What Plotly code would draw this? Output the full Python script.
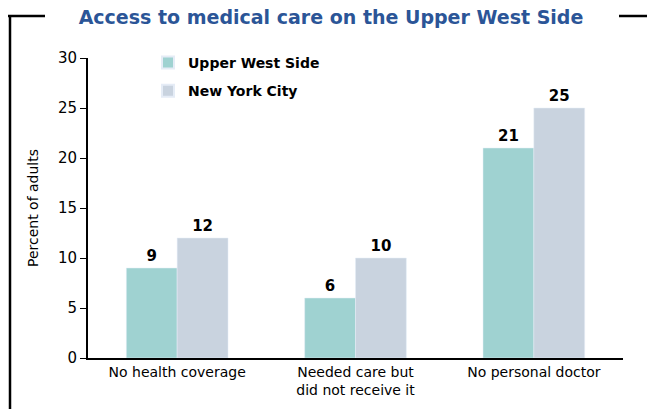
import plotly.graph_objects as go

categories = ["No health coverage", "Needed care but<br>did not receive it", "No personal doctor"]
uws_values = [9, 6, 21]
nyc_values = [12, 10, 25]
series_names = ["Upper West Side", "New York City"]

W, H = 647, 409
L, R, T, B = 88, 24, 58, 51
pw, ph = W - L - R, H - T - B


def px(x):
    return (x - L) / pw


def py(y):
    return (H - B - y) / ph


font = "DejaVu Sans"

fig = go.Figure()
fig.add_trace(go.Bar(x=categories, y=uws_values, name=series_names[0], legendgroup="uws",
                     marker_color="#9fd2d1", text=uws_values, textposition="outside",
                     textfont=dict(size=15, color="black", family=font, weight="bold"),
                     cliponaxis=False))
fig.add_trace(go.Bar(x=categories, y=nyc_values, name=series_names[1], legendgroup="nyc",
                     marker_color="#c9d3df", text=nyc_values, textposition="outside",
                     textfont=dict(size=15, color="black", family=font, weight="bold"),
                     cliponaxis=False))

# frame lines around the title
line = dict(color="black", width=2.5)
fig.add_shape(type="line", xref="paper", yref="paper", x0=px(8), x1=px(45), y0=py(16), y1=py(16), line=line)
fig.add_shape(type="line", xref="paper", yref="paper", x0=px(10), x1=px(10), y0=py(16), y1=py(412), line=line)
fig.add_shape(type="line", xref="paper", yref="paper", x0=px(619), x1=px(650), y0=py(16), y1=py(16), line=line)

fig.update_layout(
    width=W, height=H,
    margin=dict(l=L, r=R, t=T, b=B),
    plot_bgcolor="white", paper_bgcolor="white",
    font=dict(family=font, color="black"),
    title=dict(text="<b>Access to medical care on the Upper West Side</b>",
               x=px(331), xref="paper", xanchor="center", y=1 - 17 / H, yanchor="middle",
               font=dict(size=19, color="#2b5597", family=font)),
    barmode="group", bargap=0.43, bargroupgap=0,
    showlegend=True,
    legend=dict(x=px(148), y=py(47), xanchor="left", yanchor="top",
                font=dict(size=14, family=font, weight="bold"),
                bgcolor="rgba(0,0,0,0)", tracegroupgap=7, itemsizing="constant"),
    xaxis=dict(showline=True, linecolor="black", linewidth=2, ticks="",
               tickfont=dict(size=14), showgrid=False, automargin=False),
    yaxis=dict(range=[0, 30], dtick=5, showline=True, linecolor="black", linewidth=2,
               ticks="outside", ticklen=6, tickcolor="black", showgrid=False,
               tickfont=dict(size=15), zeroline=False, automargin=False,
               title=dict(text="Percent of adults", font=dict(size=14), standoff=16)),
)

fig.write_html("out.html", post_script="document.body.style.margin='0';",
               config={"displayModeBar": False})
